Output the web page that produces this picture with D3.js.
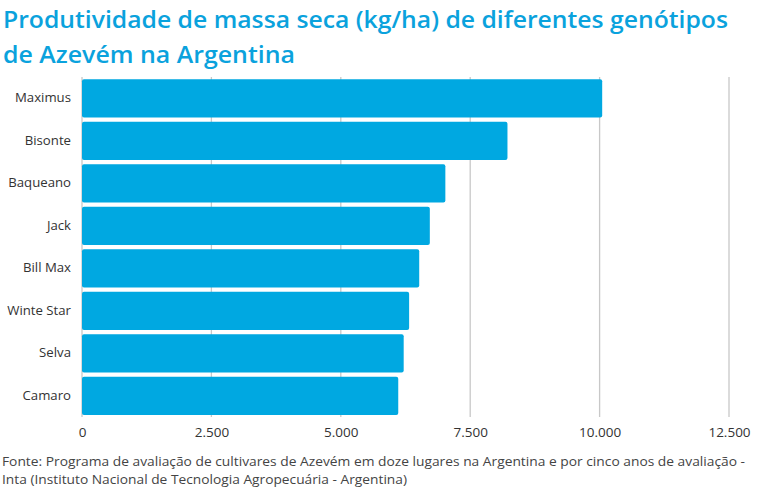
<!DOCTYPE html>
<html>
<head>
<meta charset="utf-8">
<script src="https://cdn.jsdelivr.net/npm/d3@7/dist/d3.min.js"></script>
<style>
    body { margin: 0; background: #fff; }
    svg { display: block; font-family: "Open Sans", sans-serif; }
</style>
</head>
<body>
<div id="chart"></div>
<script>
var genotypes = ["Maximus", "Bisonte", "Baqueano", "Jack", "Bill Max", "Winte Star", "Selva", "Camaro"];
var dryMass = [10050, 8220, 7020, 6720, 6515, 6320, 6215, 6110];
var xTicks = [0, 2500, 5000, 7500, 10000, 12500];
var titleLines = ["Produtividade de massa seca (kg/ha) de diferentes genótipos", "de Azevém na Argentina"];
var titleWidths = [725, 292];
var sourceLines = [
    "Fonte: Programa de avaliação de cultivares de Azevém em doze lugares na Argentina e por cinco anos de avaliação -",
    "Inta (Instituto Nacional de Tecnologia Agropecuária - Argentina)"
];
var sourceWidths = [743, 405];

var width = 780, height = 488;
var margin = { top: 77, right: 51, bottom: 71, left: 82 };
var innerW = width - margin.left - margin.right;
var innerH = height - margin.top - margin.bottom;

var data = genotypes.map(function(g, i) { return { name: g, value: dryMass[i] }; });

var svg = d3.select('#chart').append('svg')
    .attr('width', width)
    .attr('height', height);

// title
svg.append('g').selectAll('text')
    .data(titleLines)
    .enter().append('text')
    .attr('x', 3)
    .attr('y', function(d, i) { return 28 + i * 35; })
    .attr('fill', '#0aa2dd')
    .attr('font-size', 24)
    .attr('font-weight', 600)
    .attr('textLength', function(d, i) { return titleWidths[i]; })
    .attr('lengthAdjust', 'spacingAndGlyphs')
    .text(function(d) { return d; });

var xScale = d3.scaleLinear()
    .domain([0, 12500])
    .range([0, innerW]);

var yScale = d3.scaleBand()
    .domain(genotypes)
    .range([0, innerH])
    .paddingInner(0.1)
    .paddingOuter(0.05);

var g = svg.append('g')
    .attr('transform', 'translate(' + margin.left + ',' + margin.top + ')');

// grid lines
g.append('g').selectAll('line')
    .data(xTicks)
    .enter().append('line')
    .attr('x1', function(d) { return xScale(d); })
    .attr('x2', function(d) { return xScale(d); })
    .attr('y1', 0)
    .attr('y2', innerH)
    .attr('stroke', '#c8c8c8')
    .attr('stroke-width', 1.3);

// bars
g.append('g').selectAll('rect')
    .data(data)
    .enter().append('rect')
    .attr('x', 0)
    .attr('y', function(d) { return yScale(d.name); })
    .attr('width', function(d) { return xScale(d.value); })
    .attr('height', yScale.bandwidth())
    .attr('rx', 2)
    .attr('fill', '#00a8e1');

// category labels
var yAxis = d3.axisLeft(yScale).tickSize(0).tickPadding(11);
g.append('g')
    .call(yAxis)
    .call(function(ax) { ax.select('.domain').remove(); })
    .selectAll('text')
    .attr('font-size', 13.2)
    .attr('font-family', '"Open Sans", sans-serif')
    .attr('fill', '#333');

// value axis labels
var xAxis = d3.axisBottom(xScale)
    .tickValues(xTicks)
    .tickSize(0)
    .tickPadding(10)
    .tickFormat(function(d) { return d3.format(',')(d).replace(/,/g, '.'); });
g.append('g')
    .attr('transform', 'translate(0,' + innerH + ')')
    .call(xAxis)
    .call(function(ax) { ax.select('.domain').remove(); })
    .selectAll('text')
    .attr('font-size', 13.5)
    .attr('font-family', '"Open Sans", sans-serif')
    .attr('fill', '#333');

// source note
svg.append('g').selectAll('text')
    .data(sourceLines)
    .enter().append('text')
    .attr('x', 2)
    .attr('y', function(d, i) { return 466 + i * 18; })
    .attr('fill', '#444')
    .attr('font-size', 13)
    .attr('textLength', function(d, i) { return sourceWidths[i]; })
    .attr('lengthAdjust', 'spacingAndGlyphs')
    .text(function(d) { return d; });
</script>
</body>
</html>
